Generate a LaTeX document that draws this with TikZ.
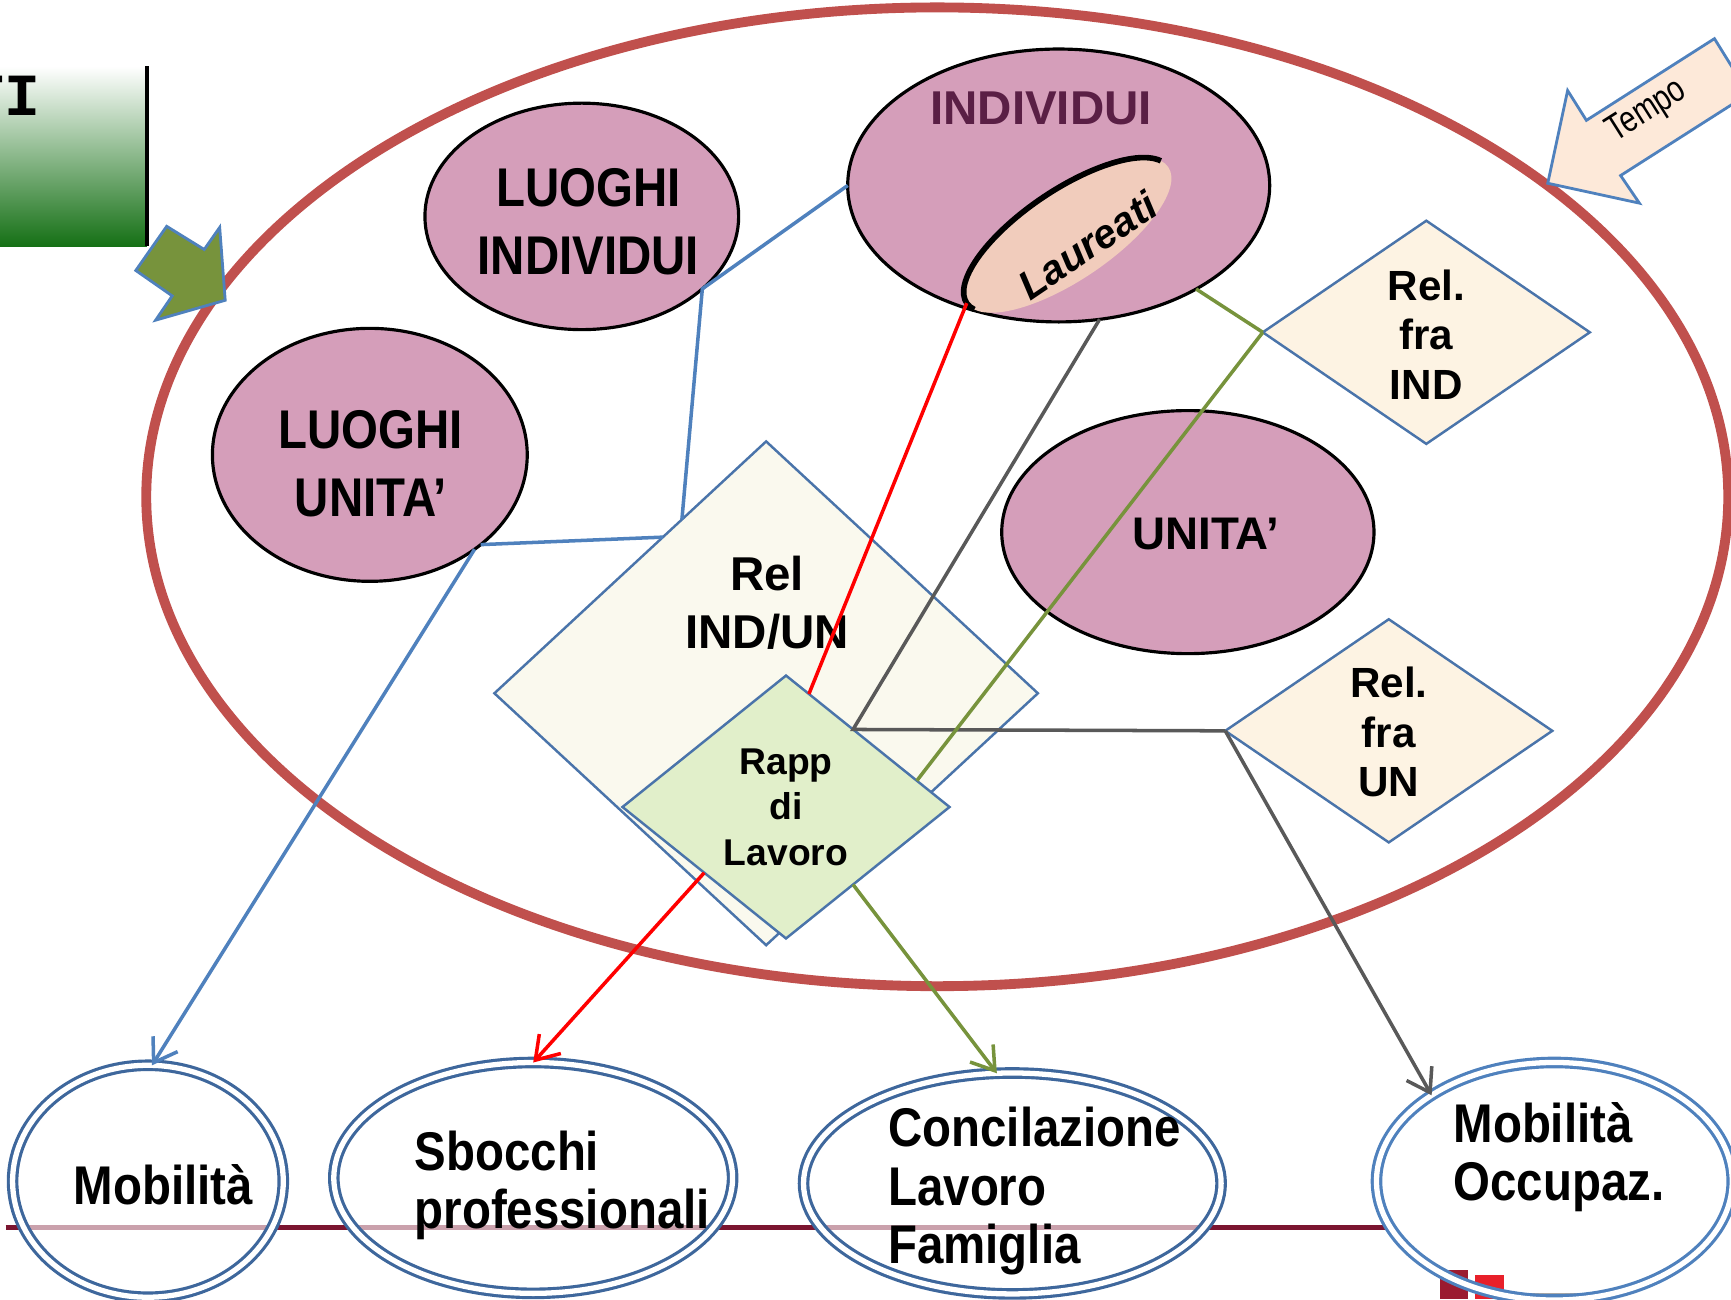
\documentclass[tikz,border=0pt]{standalone}
\usepackage{fontspec}
\setmainfont{Liberation Sans}
\newfontfamily\narfont[FakeStretch=0.87]{Liberation Sans}
\newfontfamily\tempofont[FakeStretch=0.78]{Liberation Sans}
\newfontfamily\timono{Liberation Mono}
\usetikzlibrary{shapes.geometric,arrows.meta,calc}
\definecolor{cPink}{HTML}{D59EBA}
\definecolor{cPurple}{HTML}{5A1F45}
\definecolor{cRing}{HTML}{C0504D}
\definecolor{cBlue}{HTML}{4F81BD}
\definecolor{cDiamB}{HTML}{4A74AA}
\definecolor{cRed}{HTML}{FF0000}
\definecolor{cGray}{HTML}{595959}
\definecolor{cOlive}{HTML}{77933C}
\definecolor{cIvory}{HTML}{FAF9EE}
\definecolor{cRapp}{HTML}{E1EFCA}
\definecolor{cCream}{HTML}{FDF3E3}
\definecolor{cLau}{HTML}{F1CCBC}
\definecolor{cTempo}{HTML}{FDE9D9}
\definecolor{cOut}{HTML}{3E679C}
\definecolor{cMaroon}{HTML}{7B1530}
\definecolor{cBoxMid}{HTML}{A5C07F}
\definecolor{cBoxDark}{HTML}{157015}
\definecolor{cLogoA}{HTML}{9B1B30}
\definecolor{cLogoB}{HTML}{E8202A}
\begin{document}
\begin{tikzpicture}[x=0.0110395cm, y=-0.0110395cm,
  pinkell/.style={ellipse, draw=black, line width=0.9pt, fill=cPink, inner sep=0pt, outer sep=0pt},
  bigtxt/.style={font=\narfont\bfseries\fontsize{15.5}{19.5}\selectfont, align=center, inner sep=0pt},
  reldiam/.style={diamond, draw=cDiamB, line width=0.7pt, inner sep=0pt, outer sep=0pt},
  relfra/.style={font=\bfseries\fontsize{12}{14.1}\selectfont, align=center, inner sep=0pt},
  outell/.style={ellipse, draw=cOut, line width=0.9pt, double=white, double distance=1.5pt, fill=white, fill opacity=0.6, inner sep=0pt, outer sep=0pt},
  outtxt/.style={font=\narfont\bfseries\fontsize{15.5}{16.6}\selectfont, align=left, anchor=west, inner sep=0pt},
  conn/.style={line width=1pt},
  arr/.style={-{Straight Barb[length=2.2mm,width=2.9mm]}},
]
\useasboundingbox (0,0) rectangle (1568,1177);
\clip (0,0) rectangle (1568,1177);

% top-left box
\node[rectangle, anchor=north west, minimum width=1.468cm, minimum height=1.800cm, top color=white, middle color=cBoxMid, bottom color=cBoxDark, inner sep=0pt, outer sep=0pt] (gbox) at (0,60) {};
\draw[line width=1.3pt] (gbox.north east) -- (gbox.south east);
\node[anchor=base east, font=\timono\bfseries\fontsize{17}{17}\selectfont, inner sep=0pt] (ti) at (37,105) {TI};

% big ring
\node[ellipse, draw=cRing, line width=2.8pt, minimum width=15.809cm, minimum height=9.781cm, inner sep=0pt, outer sep=0pt] (ring) at (849,450) {};

% green arrow
\draw[fill=cOlive, draw=cBlue, line width=0.8pt] (151,205) -- (185,226) -- (199,206) -- (204,272) -- (141,290) -- (156,268) -- (123,245) -- cycle;

% tempo arrow
\draw[fill=cTempo, draw=cBlue, line width=0.8pt] (1402,166) -- (1420,82) -- (1437,109) -- (1553,35) -- (1584,85) -- (1468,159) -- (1485,184) -- cycle;
\node[rotate=32.3, font=\tempofont\fontsize{10.5}{11}\selectfont, inner sep=0pt] (tempo) at (1492,101) {Tempo};

% pink ellipses
\node[pinkell, minimum width=3.135cm, minimum height=2.263cm] (LI) at (527,196) {};
\node[bigtxt] (LIt) at (533,201) {LUOGHI\\INDIVIDUI};
\node[pinkell, minimum width=3.146cm, minimum height=2.528cm] (LU) at (335,412) {};
\node[bigtxt] (LUt) at (336,420) {LUOGHI\\UNITA’};
\node[pinkell, minimum width=4.217cm, minimum height=2.727cm] (IND) at (959,168) {};
\node[font=\bfseries\fontsize{13.5}{15}\selectfont, text=cPurple, inner sep=0pt] (INDt) at (943,98) {INDIVIDUI};
\node[ellipse, rotate=34, fill=cLau, minimum width=2.43cm, minimum height=0.9cm, inner sep=0pt, outer sep=0pt] (lau) at (967,213) {};
\begin{scope}[shift={(lau.center)}, rotate=34]
  \draw[line width=1.6pt] (12:1.215cm and 0.45cm) arc[start angle=12, end angle=192, x radius=1.215cm, y radius=0.45cm];
\end{scope}
\node[rotate=34, font=\bfseries\itshape\fontsize{11.5}{12}\selectfont, inner sep=0pt] (laut) at (985,222) {Laureati};
\node[pinkell, minimum width=3.720cm, minimum height=2.429cm] (UN) at (1076,482) {};
\node[font=\bfseries\fontsize{13}{15}\selectfont, inner sep=0pt] (UNt) at (1092,484) {UNITA’};

% diamonds
\node[reldiam, fill=cIvory, minimum width=5.431cm, minimum height=5.034cm] (RelIU) at (694,628) {};
\node[font=\bfseries\fontsize{13.5}{16.3}\selectfont, align=center, inner sep=0pt] (RelIUt) at (695,546) {Rel\\IND/UN};
\node[reldiam, fill=cRapp, minimum width=3.268cm, minimum height=2.627cm] (Rapp) at (712,731) {};
\node[font=\bfseries\fontsize{10.6}{12.9}\selectfont, align=center, inner sep=0pt] (Rappt) at (712,731) {Rapp\\di\\Lavoro};
\node[reldiam, fill=cCream, minimum width=3.268cm, minimum height=2.230cm] (RFI) at (1292,301) {};
\node[relfra] (RFIt) at (1292,303) {Rel.\\fra\\IND};
\node[reldiam, fill=cCream, minimum width=3.268cm, minimum height=2.230cm] (RFU) at (1258,662) {};
\node[relfra] (RFUt) at (1258,663) {Rel.\\fra\\UN};

% bottom line and logo fragment
\fill[cLogoA] (1304,1150) rectangle (1330,1177);
\fill[cLogoB] (1336,1155) rectangle (1362,1177);
\fill[gray!70] (1374,1171) rectangle (1431,1177);
\draw[cMaroon, line width=1.4pt] (5,1112) -- (1262,1112);

% bottom ellipses
\node[outell, minimum width=2.705cm, minimum height=2.318cm] (Mob) at (134,1070) {};
\node[outell, minimum width=3.985cm, minimum height=2.307cm] (Sbo) at (483,1067) {};
\node[outell, minimum width=4.173cm, minimum height=2.208cm] (Con) at (917,1072) {};
\node[outell, draw=cBlue, fill=none, minimum width=3.555cm, minimum height=2.374cm] (MO) at (1408,1070) {};
\node[outtxt, anchor=center] (Mobt) at (148,1073) {Mobilità};
\node[outtxt] (Sbot) at (375,1074) {Sbocchi\\professionali};
\node[outtxt] (Cont) at (804,1079) {Concilazione\\Lavoro\\Famiglia};
\node[outtxt] (MOt) at (1316,1048) {Mobilità\\Occupaz.};

% connectors
\coordinate (j1) at (LI.329);
\coordinate (j2) at ($(Rapp.north)!0.41!(Rapp.east)$);
\draw[conn, cBlue] (IND.west) -- (j1) -- ($(RelIU.west)!0.69!(RelIU.north)$);
\draw[conn, cBlue] (LU.321.5) -- ($(RelIU.west)!0.62!(RelIU.north)$);
\draw[conn, cBlue, arr] (LU.318) -- (Mob.88);

\draw[conn, cRed] (lau.west) -- ($(Rapp.north)!0.14!(Rapp.east)$);
\draw[conn, cRed, arr] ($(Rapp.west)!0.5!(Rapp.south)$) -- (Sbo.north);

\draw[conn, cGray] (IND.287) -- (j2) -- (RFU.west);
\draw[conn, cGray, arr] (RFU.west) -- (MO.145);

\draw[conn, cOlive] (IND.323) -- (RFI.west);
\draw[conn, cOlive] (RFI.west) -- ($(Rapp.north)!0.8!(Rapp.east)$);
\draw[conn, cOlive, arr] ($(Rapp.south)!0.41!(Rapp.east)$) -- (Con.98);
\end{tikzpicture}
\end{document}
